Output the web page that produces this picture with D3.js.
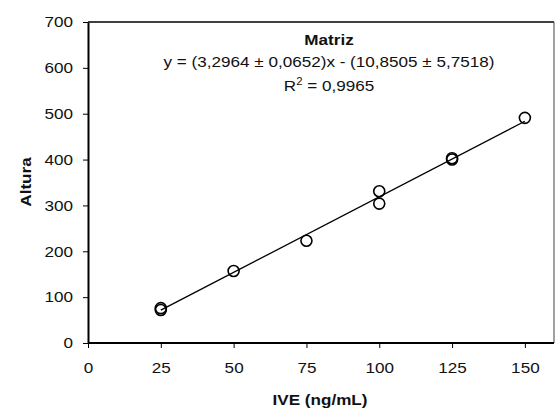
<!DOCTYPE html>
<html><head><meta charset="utf-8">
<script src="https://cdn.jsdelivr.net/npm/d3@7"></script>
<style>body{margin:0;background:#fff}svg{display:block}text{font-family:"Liberation Sans",Arial,sans-serif}</style>
</head><body>
<script>
const xValues = [25, 25, 50, 75, 100, 100, 125, 125, 150];
const yValues = [72, 76, 157, 223, 331, 304, 400, 403, 491];
const xTicks = [0, 25, 50, 75, 100, 125, 150];
const yTicks = [0, 100, 200, 300, 400, 500, 600, 700];
const slope = 3.2964, intercept = -10.8505;
const fitRange = [25, 150];
const titleText = "Matriz";
const eqText = "y = (3,2964 \u00B1 0,0652)x - (10,8505 \u00B1 5,7518)";
const xLabel = "IVE (ng/mL)", yLabel = "Altura";

const W = 555, H = 408;
const L = 88, R = 554, T = 22, B = 343;
const SX = 1.14, FS = 15;
const svg = d3.select("body").append("svg").attr("width", W).attr("height", H);
const x = d3.scaleLinear().domain([0, 160]).range([L, R]);
const y = d3.scaleLinear().domain([0, 700]).range([B, T]);

// frame
svg.append("line").attr("x1", L).attr("x2", R).attr("y1", T).attr("y2", T).attr("stroke", "#000").attr("stroke-width", 1.6);
svg.append("line").attr("x1", R).attr("x2", R).attr("y1", T).attr("y2", B).attr("stroke", "#444").attr("stroke-width", 1);

const xa = svg.append("g").attr("transform", `translate(0,${B})`)
  .call(d3.axisBottom(x).tickValues(xTicks).tickSize(5).tickPadding(14).tickSizeOuter(0));
const ya = svg.append("g").attr("transform", `translate(${L},0)`)
  .call(d3.axisLeft(y).tickValues(yTicks).tickSize(5).tickPadding(10).tickSizeOuter(0));
[xa, ya].forEach(a => {
  a.select(".domain").attr("stroke", "#000").attr("stroke-width", 2);
  a.selectAll(".tick line").attr("stroke", "#000").attr("stroke-width", 1);
  a.selectAll(".tick text").attr("font-size", FS).attr("fill", "#111").attr("font-family", "Liberation Sans, Arial, sans-serif");
});
xa.select(".domain").attr("d", `M${L},0H${R}`);
xa.selectAll(".tick text").attr("transform", `scale(${SX},1)`);
ya.selectAll(".tick text").attr("x", 0).attr("transform", `translate(-15,0) scale(${SX},1)`);

// fit line
svg.append("line")
  .attr("x1", x(fitRange[0])).attr("y1", y(slope * fitRange[0] + intercept))
  .attr("x2", x(fitRange[1])).attr("y2", y(slope * fitRange[1] + intercept))
  .attr("stroke", "#000").attr("stroke-width", 1.3);

// points
svg.selectAll("circle.pt").data(xValues.map((v, i) => [v, yValues[i]])).enter()
  .append("circle").attr("class", "pt")
  .attr("cx", d => x(d[0])).attr("cy", d => y(d[1])).attr("r", 5.5)
  .attr("fill", "none").attr("stroke", "#000").attr("stroke-width", 1.6);

function label(px, py, rot) {
  return svg.append("g").attr("transform", `translate(${px},${py})` + (rot ? ` rotate(${rot})` : ""))
    .append("text").attr("transform", `scale(${SX},1)`).attr("text-anchor", "middle").attr("font-size", FS).attr("fill", "#111");
}

// annotation
const cx = 329;
label(cx, 45).attr("font-weight", "bold").text(titleText);
label(cx, 67).text(eqText);
const r2 = label(cx, 91);
r2.append("tspan").text("R");
r2.append("tspan").attr("dy", -6).attr("font-size", 10).text("2");
r2.append("tspan").attr("dy", 6).text(" = 0,9965");

// axis titles
label(320, 405).attr("font-weight", "bold").text(xLabel);
label(31, 182, -90).attr("font-weight", "bold").text(yLabel);
</script>
</body></html>
